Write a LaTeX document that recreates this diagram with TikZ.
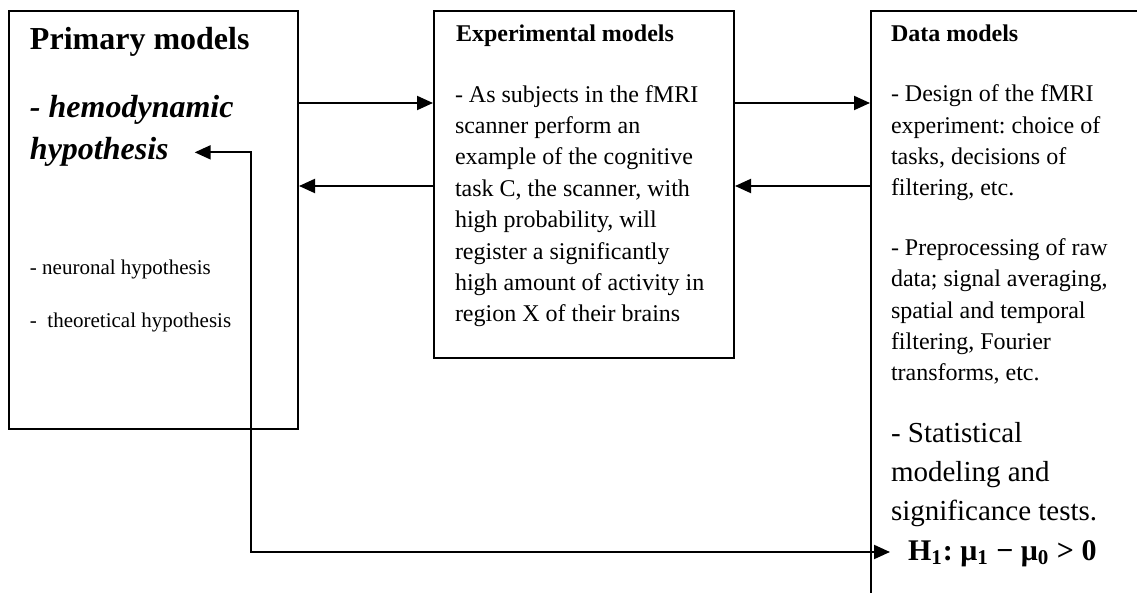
\documentclass[tikz,border=0pt]{standalone}
\usepackage{fontspec}
\setmainfont{Liberation Serif}
\usetikzlibrary{arrows.meta}
\usetikzlibrary{positioning}
\frenchspacing

\begin{document}
\begin{tikzpicture}[x=0.5pt,y=-0.5pt,>={Triangle[length=8pt,width=7pt]},
	line width=1pt,
	model box/.style={draw,rectangle,inner sep=0pt,anchor=north west},
	label text/.style={inner sep=0pt,anchor=base west,align=left},
	body/.style={label text,font=\fontsize{12pt}{15.7pt}\selectfont},
	head/.style={label text,font=\fontsize{12pt}{14pt}\selectfont\bfseries},
	big/.style={label text,font=\fontsize{16pt}{21pt}\selectfont\bfseries}]
	
	\useasboundingbox (0,0) rectangle (1137,593);
	\clip (0,0) rectangle (1137,593);
	
	% the three boxes
	\node[model box,minimum width=144.5pt,minimum height=209pt] (primary) at (8,10) {};
	\node[model box,minimum width=150pt,minimum height=173.5pt] (exper) at (433,10) {};
	\node[model box,minimum width=200pt,minimum height=320pt] (data) at (870,10) {};
	
	% primary models
	\node[big] (prim) at (29,50) {Primary models};
	\node[big,font=\fontsize{16pt}{21pt}\selectfont\bfseries\itshape] (hemo) at (29,118) {- hemodynamic};
	\node[big,font=\fontsize{16pt}{21pt}\selectfont\bfseries\itshape] (hyp) at (29,160) {hypothesis};
	\node[label text,font=\fontsize{10.5pt}{12pt}\selectfont] (neuro) at (29,275) {- neuronal hypothesis};
	\node[label text,font=\fontsize{10.5pt}{12pt}\selectfont] (theo) at (29,328) {-\ \ theoretical hypothesis};
	
	% experimental models (multi-line texts sit on their last baseline)
	\node[head] (exphead) at (455,42) {Experimental models};
	\node[body] (exptext) at (454,322) {- As subjects in the fMRI\\scanner perform an\\example of the cognitive\\task C, the scanner, with\\high probability, will\\register a significantly\\high amount of activity in\\region X of their brains};
	
	% data models
	\node[head] (datahead) at (890,42) {Data models};
	\node[body] (design) at (890,196) {- Design of the fMRI\\experiment: choice of\\tasks, decisions of\\filtering, etc.};
	\node[body] (prep) at (890,381) {- Preprocessing of raw\\data; signal averaging,\\spatial and temporal\\filtering, Fourier\\transforms, etc.};
	\node[label text,font=\fontsize{14.5pt}{19.5pt}\selectfont] (stat) at (890,521) {- Statistical\\modeling and\\significance tests.};
	\node[label text,font=\fontsize{15pt}{18pt}\selectfont\bfseries] (hone) at (907,560) {H\textsubscript{1}: μ\textsubscript{1} − μ\textsubscript{0} > 0};
	
	% connectors
	\coordinate (upper) at (0,103);
	\coordinate (lower) at (0,186);
	\coordinate (bend) at (251,552);
	\draw[->] (primary.east |- upper) -- (exper.west |- upper);
	\draw[->] (exper.west |- lower) -- (primary.east |- lower);
	\draw[->] (exper.east |- upper) -- (data.west |- upper);
	\draw[->] (data.west |- lower) -- (exper.east |- lower);
	\draw[<->,shorten >=8.5pt] ([xshift=12.5pt]hyp.east) -| (bend) -- (bend -| hone.west);
\end{tikzpicture}
\end{document}
